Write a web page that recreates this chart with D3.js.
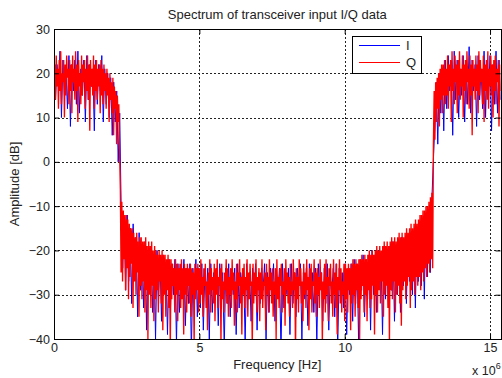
<!DOCTYPE html>
<html>
<head>
<meta charset="utf-8">
<script src="https://cdn.jsdelivr.net/npm/d3@7"></script>
<style>
  body { margin: 0; background: #fff; }
  svg { display: block; font-family: 'Liberation Sans', Arial, sans-serif; }
</style>
</head>
<body>
<div id="chart"></div>
<script>
// spectrum amplitude in dB, bins evenly spaced from 0 to fMax
const fMax = 15.36e6;

const iAmp = [
  24, 14, 22, 17, 25, 10, 23, 15, 21, 12,
  24, 8, 22, 16, 23, 13, 25, 11, 21, 15,
  23, 9, 24, 14, 22, 17, 21, 7, 23, 13,
  22, 16, 24, 9, 21,
  13, 20, 10, 19, 6, 18, 9, 16, 0, 11,
  -11, -24, -13, -29, -12, -27, -15, -32, -14, -26, -17, -35, -16, -29,
  -19, -33, -18, -38, -20, -29, -19, -34, -21, -40,
  -20, -31, -22, -36, -21, -28, -23, -39, -22, -33,
  -23, -30, -22, -41, -23, -34, -24, -29, -22, -37,
  -24, -32, -23, -43, -24, -30, -22, -35, -24,
  -33, -23, -38, -25, -30, -24, -40, -23, -34, -25,
  -29, -24, -37, -23, -31, -25, -42, -24, -32, -23,
  -35, -25, -30, -24, -39, -23, -33, -25, -28, -24,
  -41, -23, -31, -25, -36, -24, -30, -23, -38, -25,
  -32, -24, -29, -23, -40, -25, -34, -24, -31, -23,
  -36, -25, -29, -24, -43, -23, -33, -25, -30, -24,
  -39, -23, -32, -25, -35, -24, -28, -23, -40, -25,
  -31, -24, -37, -23, -30, -25, -34, -24, -41, -23,
  -29, -25, -36, -24, -32, -23, -38, -25, -30, -24,
  -35, -23, -42, -24, -31, -25, -33,
  -23, -39, -24, -30, -23, -36, -22, -32, -23, -41,
  -22, -29, -21, -35, -22, -31, -21, -38, -20, -30,
  -21, -34, -20, -28, -21, -39, -19, -31, -20, -33,
  -19, -29, -18, -36, -19, -30, -18, -34, -17, -28,
  -18, -32, -17, -27, -16, -30, -17, -33, -15,
  -27, -14, -28, -13, -31, -12, -26, -11, -25, -9,
  0,
  8, 18, 4, 20, 11, 21, 7, 23,
  12, 24, 16, 22, 6, 25, 14, 23, 10, 21,
  15, 24, 9, 22, 13, 26, 11, 23, 16, 22,
  8, 24, 14, 21, 12, 25, 10, 23, 15, 24,
  7, 22, 13, 25, 11, 23, 14
];

const qAmp = [
  8, 22, 14, 24, 17, 21, 12, 23, 16, 25, 13, 20, 18, 23, 10, 22, 15, 24, 19, 21,
  13, 23, 16, 22, 11, 24, 18, 21, 14, 25, 16, 22, 9, 23, 17, 20, 13, 24, 15, 22,
  18, 23, 12, 21, 16, 24, 14, 22, 7, 23, 17, 21, 15, 24, 12, 22, 16, 23, 14, 21,
  17, 22, 11, 23, 15, 21, 13, 22, 16,
  20, 12, 21, 15, 19, 9, 20, 14, 18, 11, 19, 6, 17, 12, 16, 4, 15, 9, 13, 2,
  -6,
  -25, -9, -27, -11, -22, -12, -29, -12, -24, -13, -31, -14, -26, -15, -23, -15, -33, -16, -27, -17,
  -30, -16, -25, -18, -35, -17, -28,
  -17, -31, -18, -27, -18, -34, -17, -29, -19, -40, -18, -30, -19, -33, -18, -28, -20, -36, -19, -31,
  -20, -29, -21, -34, -20, -27, -21, -32, -20, -38, -21, -30, -21, -35, -22, -29, -21, -33, -22, -42,
  -22, -31, -23, -28, -24, -34, -22, -30, -23, -36, -24, -29, -23, -33, -22, -31, -24, -39, -23, -30,
  -24, -34, -23, -28, -24, -32, -23, -35, -24, -30, -25, -41, -23, -31, -24, -29, -23, -34, -24,
  -32, -22, -30, -26, -35, -24, -28, -23, -33, -27, -38, -25, -30, -22, -34, -24, -29, -26, -32, -23,
  -36, -24, -30, -22, -33, -26, -28, -24, -41, -23, -31, -27, -34, -25, -29, -22, -32, -24, -35, -26,
  -30, -24, -33, -22, -29, -25, -37, -27, -31, -23, -34, -25, -28, -22, -32, -26, -39, -24, -30, -23,
  -33, -26, -29, -22, -35, -25, -31, -23, -28, -27, -42, -23, -32, -25, -30, -22, -34, -26, -29, -24,
  -36, -25, -31, -22, -33, -27, -28, -25, -38, -23, -30, -26, -34, -22, -29, -25, -32, -24, -35, -27,
  -30, -24, -40, -22, -31, -26, -33, -24, -28, -23, -34, -27, -30, -24, -37, -22, -29, -25, -32, -26,
  -35, -23, -30, -27, -33, -22, -29, -25, -43, -24, -31, -26, -34, -22, -28, -24, -32, -27, -36, -23,
  -30, -25, -33, -22, -29, -26, -38, -24, -31, -23, -34, -27, -28, -22, -32, -25, -35, -24, -30, -26,
  -33, -22, -29, -25, -41, -27, -31, -23, -34, -22, -30, -26, -36, -24, -28, -23, -32, -27, -35, -22,
  -30, -25, -33, -23, -39, -26, -29, -22, -32, -24, -34, -27, -30, -23, -36,
  -23, -31, -24, -34, -23, -29, -24, -38, -23, -32, -22, -30, -23, -35, -22, -29, -23, -33, -22, -40,
  -22, -31, -21, -28, -22, -34, -21, -30, -22, -36, -21, -29, -20, -33, -21, -31, -20, -28, -21, -39,
  -20, -30, -19, -34, -20, -29, -19, -32, -20, -27, -19, -35, -18, -30, -19, -28, -18, -33, -19, -41,
  -18, -29, -17, -31, -18, -27, -17, -34, -18, -30, -17, -28, -16, -32, -17, -37, -16, -29, -17, -27,
  -16, -31, -15, -28, -16, -26, -15, -33, -14, -29, -15, -27, -14, -30, -13, -26, -14,
  -28, -13, -26, -12, -29, -12, -25, -11, -27, -11, -24, -10, -26, -10, -23, -9, -25, -8, -22, -7,
  -24,
  4,
  16, 5, 18, 9, 19, 12, 20, 8, 21, 14, 22, 11, 22, 15, 23, 13, 21,
  15, 24, 12, 22, 17, 23, 9, 25, 16, 21, 13, 24, 18, 22, 11, 23, 15, 25, 14, 21,
  17, 24, 10, 22, 16, 23, 13, 25, 18, 21, 12, 24, 15, 22, 6, 23, 17, 21, 14, 24,
  16, 22, 11, 25, 15, 23, 18, 21, 13, 24, 9, 22, 16, 23, 14, 25, 12, 21, 17, 24,
  15, 22, 10, 23, 16, 24, 13, 21, 18, 23, 8, 22, 16
];

const seriesNames = ['I', 'Q'];
const seriesColors = ['#0000ff', '#ff0000'];
const xTicks = [0, 5e6, 10e6, 15e6];
const yTicks = [-40, -30, -20, -10, 0, 10, 20, 30];

const width = 502;
const height = 378;
const margin = { top: 29, right: 1.5, bottom: 39, left: 54 };

const svg = d3
  .select('#chart')
  .append('svg')
  .attr('width', width)
  .attr('height', height);

const x = d3
  .scaleLinear()
  .domain([0, fMax])
  .range([margin.left, width - margin.right]);

const y = d3
  .scaleLinear()
  .domain([-40, 30])
  .range([height - margin.bottom, margin.top]);

svg.append('defs')
  .append('clipPath')
  .attr('id', 'plot-clip')
  .append('rect')
  .attr('x', x(0))
  .attr('y', y(30))
  .attr('width', x(fMax) - x(0))
  .attr('height', y(-40) - y(30));

// dotted grid behind the data
const grid = svg.append('g').attr('stroke', '#222').attr('stroke-width', 1).attr('stroke-dasharray', '2,2');
grid.selectAll('.gx')
  .data(xTicks.filter(d => d > 0))
  .join('line')
  .attr('x1', d => Math.round(x(d)) + 0.5)
  .attr('x2', d => Math.round(x(d)) + 0.5)
  .attr('y1', y(30))
  .attr('y2', y(-40));
grid.selectAll('.gy')
  .data(yTicks.filter(d => d > -40 && d < 30))
  .join('line')
  .attr('x1', x(0))
  .attr('x2', x(fMax))
  .attr('y1', d => Math.round(y(d)) + 0.5)
  .attr('y2', d => Math.round(y(d)) + 0.5);

const line = d3
  .line()
  .x((d, i, arr) => x((i * fMax) / (arr.length - 1)))
  .y(d => y(d));

// I first, Q drawn over it
svg.append('g')
  .attr('clip-path', 'url(#plot-clip)')
  .selectAll('path')
  .data([iAmp, qAmp])
  .join('path')
  .attr('fill', 'none')
  .attr('stroke', (d, i) => seriesColors[i])
  .attr('stroke-width', (d, i) => (i === 0 ? 1 : 1.35))
  .attr('d', line);

// axes, ticks pointing inward like matlab
const fmtX = d => d / 1e6;
svg.append('g')
  .attr('transform', `translate(0,${y(-40)})`)
  .call(d3.axisBottom(x).tickValues(xTicks).tickFormat(fmtX).tickSizeInner(-5).tickSizeOuter(0).tickPadding(4));
svg.append('g')
  .attr('transform', `translate(0,${y(30)})`)
  .call(d3.axisTop(x).tickValues(xTicks).tickFormat('').tickSizeInner(-5).tickSizeOuter(0));
svg.append('g')
  .attr('transform', `translate(${x(0)},0)`)
  .call(d3.axisLeft(y).tickValues(yTicks).tickSizeInner(-5).tickSizeOuter(0).tickPadding(4));
svg.append('g')
  .attr('transform', `translate(${x(fMax)},0)`)
  .call(d3.axisRight(y).tickValues(yTicks).tickFormat('').tickSizeInner(-5).tickSizeOuter(0));

svg.selectAll('.domain').remove();
svg.selectAll('.tick text').attr('font-size', 12.5).attr('fill', '#222').attr('font-family', null);
svg.selectAll('.tick line').attr('stroke', '#000');

svg.append('rect')
  .attr('x', Math.round(x(0)) + 0.5)
  .attr('y', Math.round(y(30)) + 0.5)
  .attr('width', Math.round(x(fMax)) - Math.round(x(0)))
  .attr('height', Math.round(y(-40)) - Math.round(y(30)))
  .attr('fill', 'none')
  .attr('stroke', '#000');

// titles
svg.append('text')
  .attr('x', (x(0) + x(fMax)) / 2)
  .attr('y', 19)
  .attr('text-anchor', 'middle')
  .attr('font-size', 13)
  .attr('fill', '#222')
  .text('Spectrum of transceiver input I/Q data');

svg.append('text')
  .attr('x', (x(0) + x(fMax)) / 2)
  .attr('y', 369)
  .attr('text-anchor', 'middle')
  .attr('font-size', 13)
  .attr('fill', '#222')
  .text('Frequency [Hz]');

svg.append('text')
  .attr('transform', `translate(19,${(y(30) + y(-40)) / 2}) rotate(-90)`)
  .attr('text-anchor', 'middle')
  .attr('font-size', 13)
  .attr('fill', '#222')
  .text('Amplitude [dB]');

const expo = svg.append('text')
  .attr('x', 472)
  .attr('y', 375)
  .attr('font-size', 12.5)
  .attr('fill', '#222');
expo.append('tspan').text('x 10');
expo.append('tspan').attr('dy', -6).attr('font-size', 9).text('6');

// legend
const legend = svg.append('g').attr('transform', 'translate(352,36)');
legend.append('rect')
  .attr('x', 0.5)
  .attr('y', 0.5)
  .attr('width', 69)
  .attr('height', 37)
  .attr('fill', '#fff')
  .attr('stroke', '#000');
const item = legend.selectAll('.item')
  .data(seriesNames)
  .join('g')
  .attr('transform', (d, i) => `translate(0,${9.5 + i * 17})`);
item.append('line')
  .attr('x1', 7)
  .attr('x2', 48)
  .attr('stroke', (d, i) => seriesColors[i])
  .attr('stroke-width', 1);
item.append('text')
  .attr('x', 54)
  .attr('dy', '0.35em')
  .attr('font-size', 13)
  .attr('fill', '#222')
  .text(d => d);
</script>
</body>
</html>
